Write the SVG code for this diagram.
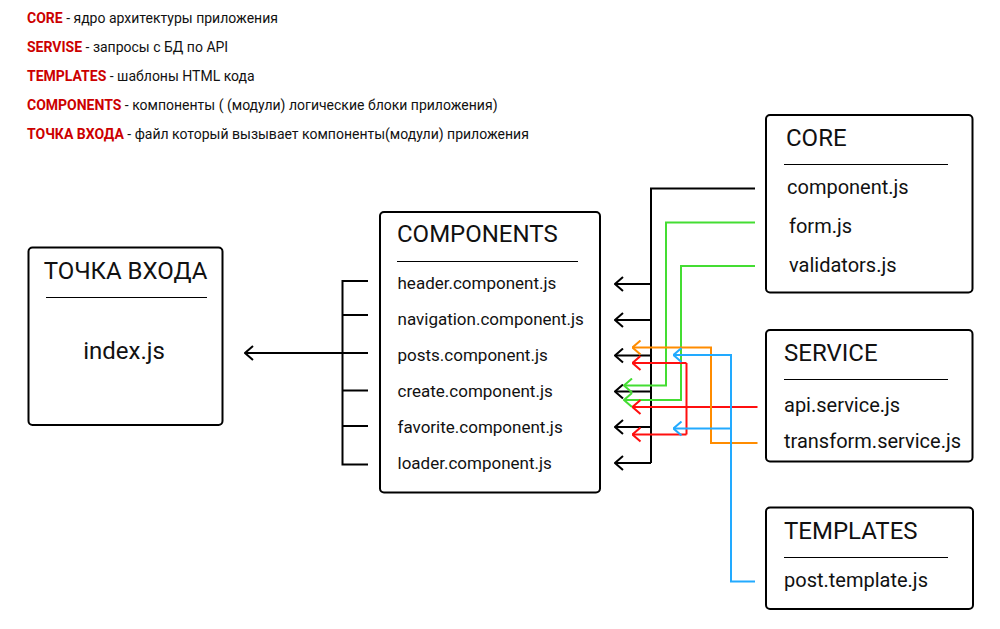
<svg xmlns="http://www.w3.org/2000/svg" width="1000" height="629" viewBox="0 0 1000 629">
<style>
  text { font-family: Roboto, "Liberation Sans", sans-serif; fill: #111; }
  .legend { font-size: 14px; }
  .key { font-weight: bold; fill: #cc0000; }
  .box { fill: #fff; stroke: #000; stroke-width: 2; }
  .sep { stroke: #000; stroke-width: 1.2; }
  .h { font-size: 24px; }
  .item { font-size: 20px; }
  .citem { font-size: 17px; }
  .ln { fill: none; stroke-width: 2; stroke-linejoin: miter; }
  .k { stroke: #000; }
  .g { stroke: #44dd33; }
  .r { stroke: #ff0f0f; }
  .o { stroke: #ff8c00; }
  .b { stroke: #22aaff; }
</style>
<defs>
  <marker id="ak" markerWidth="12" markerHeight="16" refX="11" refY="8" orient="auto" markerUnits="userSpaceOnUse" viewBox="0 0 12 16">
    <path d="M3,1 L11,8 L3,15" fill="none" stroke="#000" stroke-width="2"/>
  </marker>
  <marker id="ag" markerWidth="12" markerHeight="16" refX="11" refY="8" orient="auto" markerUnits="userSpaceOnUse" viewBox="0 0 12 16">
    <path d="M3,1 L11,8 L3,15" fill="none" stroke="#44dd33" stroke-width="2"/>
  </marker>
  <marker id="ar" markerWidth="12" markerHeight="16" refX="11" refY="8" orient="auto" markerUnits="userSpaceOnUse" viewBox="0 0 12 16">
    <path d="M3,1 L11,8 L3,15" fill="none" stroke="#ff0f0f" stroke-width="2"/>
  </marker>
  <marker id="ao" markerWidth="12" markerHeight="16" refX="11" refY="8" orient="auto" markerUnits="userSpaceOnUse" viewBox="0 0 12 16">
    <path d="M3,1 L11,8 L3,15" fill="none" stroke="#ff8c00" stroke-width="2"/>
  </marker>
  <marker id="ab" markerWidth="12" markerHeight="16" refX="11" refY="8" orient="auto" markerUnits="userSpaceOnUse" viewBox="0 0 12 16">
    <path d="M3,1 L11,8 L3,15" fill="none" stroke="#22aaff" stroke-width="2"/>
  </marker>
</defs>
<rect width="1000" height="629" fill="#fff"/>

<g id="legend" class="legend">
  <text x="27" y="23"><tspan class="key">CORE</tspan> - ядро архитектуры приложения</text>
  <text x="27" y="52"><tspan class="key">SERVISE</tspan> - запросы с БД по API</text>
  <text x="27" y="81"><tspan class="key">TEMPLATES</tspan> - шаблоны HTML кода</text>
  <text x="27" y="109.5"><tspan class="key">COMPONENTS</tspan> - компоненты ( (модули) логические блоки приложения)</text>
  <text x="27" y="138.5"><tspan class="key">ТОЧКА ВХОДА</tspan> - файл который вызывает компоненты(модули) приложения</text>
</g>

<g id="connectors">
  <!-- bracket to entry point -->
  <path class="ln k" d="M368,281 H342.5 V464.5 H368"/>
  <path class="ln k" d="M342.5,315 H368 M342.5,353 H368 M342.5,390.5 H368 M342.5,426 H368"/>
  <path class="ln k" d="M342.5,353 H245" marker-end="url(#ak)"/>
  <!-- core component.js -->
  <path class="ln k" d="M755,188.5 H651 V463"/>
  <path class="ln k" d="M651,284 H615" marker-end="url(#ak)"/>
  <path class="ln k" d="M651,320 H615" marker-end="url(#ak)"/>
  <path class="ln k" d="M651,355.5 H615" marker-end="url(#ak)"/>
  <path class="ln k" d="M651,391.5 H615" marker-end="url(#ak)"/>
  <path class="ln k" d="M651,427 H615" marker-end="url(#ak)"/>
  <path class="ln k" d="M651,463 H615" marker-end="url(#ak)"/>
  <!-- form.js / validators.js -->
  <path class="ln g" d="M755,222.5 H666 V385.5 H624" marker-end="url(#ag)"/>
  <path class="ln g" d="M755,266 H681 V400 H624" marker-end="url(#ag)"/>
  <!-- api.service.js -->
  <path class="ln r" d="M757.5,407 H632.5" marker-end="url(#ar)"/>
  <path class="ln r" d="M686.5,363 V434.5"/>
  <path class="ln r" d="M686.5,363 H632.5" marker-end="url(#ar)"/>
  <path class="ln r" d="M686.5,434.5 H632.5" marker-end="url(#ar)"/>
  <!-- transform.service.js -->
  <path class="ln o" d="M757.5,443 H711 V347.5 H632.5" marker-end="url(#ao)"/>
  <!-- post.template.js -->
  <path class="ln b" d="M755,581.5 H731 V355 H673.5" marker-end="url(#ab)"/>
  <path class="ln b" d="M731,428.5 H673.5" marker-end="url(#ab)"/>
</g>

<g id="entry">
  <rect class="box" x="28.5" y="247.5" width="194" height="177.5" rx="4"/>
  <text class="h" x="125.5" y="278.5" text-anchor="middle">ТОЧКА ВХОДА</text>
  <line class="sep" x1="46" y1="297.5" x2="207" y2="297.5"/>
  <text class="h" x="124" y="359" text-anchor="middle">index.js</text>
</g>

<g id="components">
  <rect class="box" x="380" y="212" width="220" height="280.5" rx="4"/>
  <text class="h" x="397" y="242">COMPONENTS</text>
  <line class="sep" x1="397" y1="261.5" x2="578" y2="261.5"/>
  <text class="citem" x="397.5" y="288.5">header.component.js</text>
  <text class="citem" x="397.5" y="324.5">navigation.component.js</text>
  <text class="citem" x="397.5" y="360.5">posts.component.js</text>
  <text class="citem" x="397.5" y="396.5">create.component.js</text>
  <text class="citem" x="397.5" y="432.5">favorite.component.js</text>
  <text class="citem" x="397.5" y="468.5">loader.component.js</text>
</g>

<g id="core">
  <rect class="box" x="766" y="115" width="206.5" height="177.5" rx="4"/>
  <text class="h" x="786" y="146">CORE</text>
  <line class="sep" x1="784" y1="164.5" x2="948" y2="164.5"/>
  <text class="item" x="787" y="194">component.js</text>
  <text class="item" x="789" y="233">form.js</text>
  <text class="item" x="789" y="271.5">validators.js</text>
</g>

<g id="service">
  <rect class="box" x="766" y="330" width="206.5" height="131.5" rx="4"/>
  <text class="h" x="784" y="361">SERVICE</text>
  <line class="sep" x1="784" y1="379.5" x2="948" y2="379.5"/>
  <text class="item" x="784" y="412">api.service.js</text>
  <text class="item" x="784" y="448">transform.service.js</text>
</g>

<g id="templates">
  <rect class="box" x="766" y="507.5" width="207" height="101.5" rx="4"/>
  <text class="h" x="784" y="538.5">TEMPLATES</text>
  <line class="sep" x1="784" y1="557.5" x2="948" y2="557.5"/>
  <text class="item" x="784" y="587">post.template.js</text>
</g>
</svg>
